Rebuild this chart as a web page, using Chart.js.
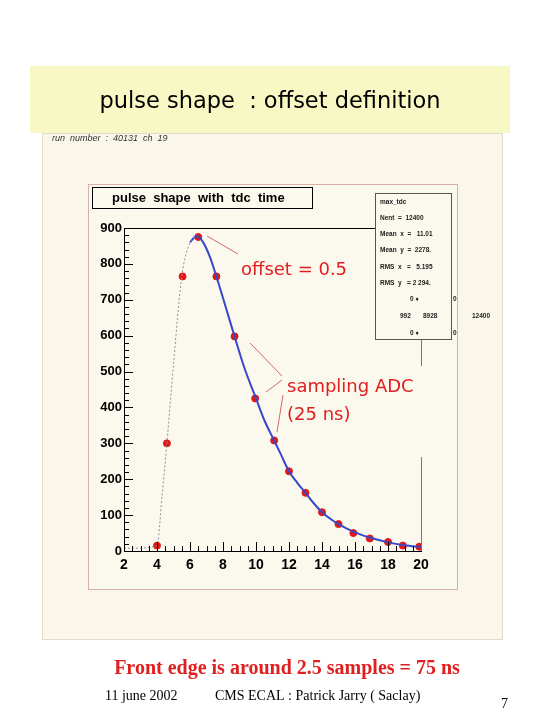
<!DOCTYPE html>
<html>
<head>
<meta charset="utf-8">
<script src="https://cdn.jsdelivr.net/npm/chart.js@4"></script>
<style>
  html, body { margin: 0; padding: 0; background: #fff; }
  #wrap { width: 540px; height: 720px; position: relative; }
</style>
</head>
<body>
<div id="wrap"><canvas id="c" width="540" height="720"></canvas></div>
<script>
// ── Data ───────────────────────────────────────────────────────
const sampleX = [4, 4.6, 5.55, 6.5, 7.6, 8.7, 9.95, 11.1, 12, 13, 14, 15, 15.9, 16.9, 18, 18.9, 19.9];
const sampleY = [15, 300, 765, 875, 765, 598, 425, 308, 222, 162, 108, 75, 50, 35, 25, 15, 12];

const riseX = [2, 3, 3.8, 4, 4.3, 4.6, 5, 5.5, 6, 6.4];
const riseY = [8, 8, 12, 15, 150, 300, 520, 765, 860, 878];

const fitX = [6, 6.4, 6.8, 7.2, 7.6, 8, 8.7, 9.3, 10, 10.5, 11.1, 11.5, 12, 12.5, 13, 13.5, 14, 14.5, 15, 16, 17, 18, 19, 20];
const fitY = [860, 878, 860, 820, 765, 705, 598, 510, 425, 365, 308, 270, 222, 190, 162, 133, 108, 90, 75, 52, 36, 24, 16, 11];

const xTicks = [2, 4, 6, 8, 10, 12, 14, 16, 18, 20];
const yTicks = [0, 100, 200, 300, 400, 500, 600, 700, 800, 900];

const statsLines = ['max_tdc', 'Nent  =  12400', 'Mean  x  =   11.01', 'Mean  y  =  2278.', 'RMS  x   =   5.195', 'RMS  y   = 2 294.'];

const zip = (xs, ys) => xs.map((x, i) => ({ x: x, y: ys[i] }));

// ── Slide decorations ──────────────────────────────────────────
const slidePlugin = {
  id: 'slide',
  beforeDraw(chart) {
    const ctx = chart.ctx;
    ctx.save();
    ctx.fillStyle = '#ffffff';
    ctx.fillRect(0, 0, 540, 720);
    ctx.fillStyle = '#f8f8c4';
    ctx.fillRect(30, 66, 480, 67);
    ctx.fillStyle = '#faf7ea';
    ctx.fillRect(42, 133, 461, 507);
    ctx.strokeStyle = '#e0dccb';
    ctx.strokeRect(42.5, 133.5, 460, 506);
    ctx.fillStyle = '#fbf8ed';
    ctx.fillRect(88, 184, 370, 406);
    ctx.strokeStyle = '#d9b0a8';
    ctx.strokeRect(88.5, 184.5, 369, 405);
    ctx.restore();
  },
  afterDraw(chart) {
    const ctx = chart.ctx;
    const xs = chart.scales.x, ys = chart.scales.y;
    const a = chart.chartArea;
    ctx.save();
    // minor ticks
    ctx.strokeStyle = '#000';
    ctx.lineWidth = 1;
    ctx.beginPath();
    for (let v = 0; v <= 900; v += 20) {
      const py = Math.round(ys.getPixelForValue(v)) + 0.5;
      const len = v % 100 === 0 ? 9 : 5;
      ctx.moveTo(a.left, py); ctx.lineTo(a.left + len, py);
    }
    for (let v = 2; v <= 20; v += 0.5) {
      const px = Math.round(xs.getPixelForValue(v)) + 0.5;
      const len = v % 2 === 0 ? 9 : 5;
      ctx.moveTo(px, a.bottom); ctx.lineTo(px, a.bottom - len);
    }
    ctx.stroke();
    ctx.beginPath();
    ctx.moveTo(a.left, a.top + 0.5); ctx.lineTo(375, a.top + 0.5);
    ctx.stroke();
    ctx.strokeStyle = '#777';
    ctx.beginPath();
    ctx.moveTo(a.right + 0.5, 340); ctx.lineTo(a.right + 0.5, 366);
    ctx.moveTo(a.right + 0.5, 457); ctx.lineTo(a.right + 0.5, a.bottom);
    ctx.stroke();

    // histogram title box
    ctx.fillStyle = '#fbf8ed';
    ctx.fillRect(92, 187, 220, 21);
    ctx.strokeStyle = '#000';
    ctx.strokeRect(92.5, 187.5, 220, 21);
    ctx.fillStyle = '#000';
    ctx.font = 'bold 13px "Liberation Sans", Arial, sans-serif';
    ctx.textBaseline = 'middle';
    ctx.fillText('pulse  shape  with  tdc  time', 112, 198);

    // stats box
    ctx.fillStyle = '#fbf8ed';
    ctx.fillRect(375, 193, 77, 147);
    ctx.strokeStyle = '#555';
    ctx.strokeRect(375.5, 193.5, 76, 146);
    ctx.fillStyle = '#222';
    ctx.font = 'bold 6.5px "Liberation Sans", Arial, sans-serif';
    statsLines.forEach((s, i) => ctx.fillText(s, 380, 202 + i * 16.2));
    ctx.fillText('0 ♦', 410, 299);
    ctx.fillText('0', 453, 299);
    ctx.fillText('992', 400, 316);
    ctx.fillText('8928', 423, 316);
    ctx.fillText('12400', 472, 316);
    ctx.fillText('0 ♦', 410, 333);
    ctx.fillText('0', 453, 333);

    // red annotations
    ctx.fillStyle = '#e02020';
    ctx.font = '18px "DejaVu Sans", sans-serif';
    ctx.textBaseline = 'alphabetic';
    ctx.fillText('offset = 0.5', 241, 275);
    ctx.fillText('sampling ADC', 287, 392);
    ctx.fillText('(25 ns)', 287, 420);
    ctx.strokeStyle = '#d04040';
    ctx.lineWidth = 0.8;
    ctx.beginPath();
    ctx.moveTo(207, 236); ctx.lineTo(238, 254);
    ctx.moveTo(250, 343); ctx.lineTo(282, 376);
    ctx.moveTo(266, 392); ctx.lineTo(282, 380);
    ctx.moveTo(283, 395); ctx.lineTo(277, 432);
    ctx.stroke();

    // slide texts
    ctx.fillStyle = '#000';
    ctx.font = '22.5px "DejaVu Sans", sans-serif';
    ctx.textAlign = 'center';
    ctx.fillText('pulse shape  : offset definition', 270, 108);
    ctx.textAlign = 'left';
    ctx.font = 'italic 9px "Liberation Sans", Arial, sans-serif';
    ctx.fillStyle = '#333';
    ctx.fillText('run  number  :  40131  ch  19', 52, 141);

    ctx.fillStyle = '#e02020';
    ctx.font = 'bold 20px "Liberation Serif", "Times New Roman", serif';
    ctx.textAlign = 'center';
    ctx.fillText('Front edge is around 2.5 samples = 75 ns', 287, 674);
    ctx.fillStyle = '#000';
    ctx.font = '14px "Liberation Serif", "Times New Roman", serif';
    ctx.textAlign = 'left';
    ctx.fillText('11 june 2002', 105, 700);
    ctx.fillText('CMS ECAL : Patrick Jarry ( Saclay)', 215, 700);
    ctx.fillText('7', 501, 708);
    ctx.restore();
  }
};

// ── Chart ──────────────────────────────────────────────────────
new Chart(document.getElementById('c'), {
  type: 'scatter',
  data: {
    datasets: [
      {
        data: zip(riseX, riseY), showLine: true, pointRadius: 0,
        borderColor: '#9090a0', borderWidth: 1, borderDash: [2, 2], cubicInterpolationMode: 'monotone'
      },
      {
        data: zip(fitX, fitY), showLine: true, pointRadius: 0,
        borderColor: '#3848c8', borderWidth: 2, cubicInterpolationMode: 'monotone'
      },
      {
        data: zip(sampleX, sampleY), pointRadius: 3.5,
        pointBackgroundColor: '#e01818', pointBorderColor: '#e01818'
      }
    ]
  },
  options: {
    responsive: false,
    animation: false,
    layout: { padding: { left: 88, top: 228, right: 119, bottom: 130 } },
    plugins: { legend: { display: false }, tooltip: { enabled: false } },
    scales: {
      x: {
        type: 'linear', min: 2, max: 20,
        afterBuildTicks: s => { s.ticks = xTicks.map(v => ({ value: v })); },
        afterFit: s => { s.height = 39; },
        grid: { display: false, drawTicks: false },
        border: { color: '#000', width: 1 },
        ticks: { color: '#000', padding: 6, font: { family: '"Liberation Sans", Arial', weight: 'bold', size: 14 } }
      },
      y: {
        min: 0, max: 900,
        afterBuildTicks: s => { s.ticks = yTicks.map(v => ({ value: v })); },
        afterFit: s => { s.width = 36; },
        grid: { display: false, drawTicks: false },
        border: { color: '#000', width: 1 },
        ticks: { color: '#000', padding: 2, font: { family: '"Liberation Sans", Arial', weight: 'bold', size: 13 } }
      }
    }
  },
  plugins: [slidePlugin]
});
</script>
</body>
</html>
